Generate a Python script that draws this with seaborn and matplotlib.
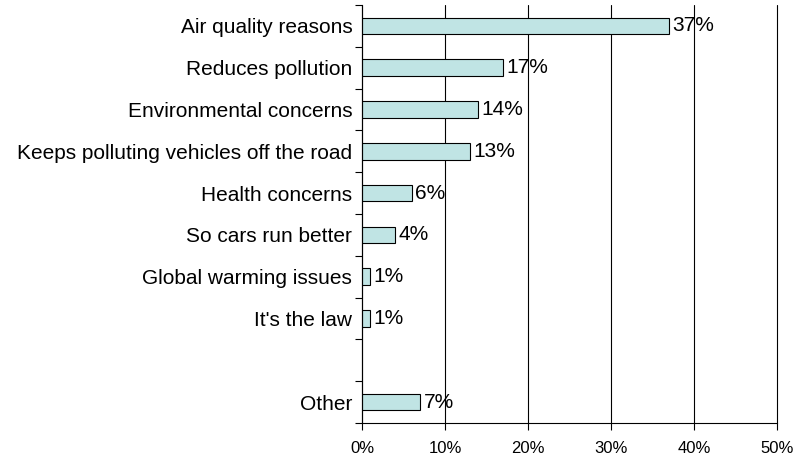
import numpy as np
import pandas as pd
import seaborn as sns
import matplotlib.pyplot as plt
from matplotlib.ticker import FixedLocator

# values (percent)
reasons = ["Air quality reasons", "Reduces pollution", "Environmental concerns",
           "Keeps polluting vehicles off the road", "Health concerns",
           "So cars run better", "Global warming issues", "It's the law", "Other"]
shares = [37, 17, 14, 13, 6, 4, 1, 1, 7]
order = reasons[:8] + [" "] + ["Other"]
xticks = [0, 10, 20, 30, 40, 50]
xtick_labels = ["0%", "10%", "20%", "30%", "40%", "50%"]

sns.set_style("white")
plt.rcParams['font.family'] = ['Liberation Sans', 'DejaVu Sans']
plt.rcParams['text.color'] = 'black'
plt.rcParams['xtick.color'] = 'black'
plt.rcParams['ytick.color'] = 'black'

df = pd.DataFrame({"reason": reasons, "share": shares})

fig = plt.figure(figsize=(7.94, 4.57), dpi=100)
ax = fig.add_axes([0.456, 0.0744, 0.5226, 0.9146])

sns.barplot(data=df, x="share", y="reason", order=order, orient="h",
            color="#c0e4e4", edgecolor="black", linewidth=0.8,
            width=0.4, saturation=1, ax=ax)

# value labels
for r, v in zip(reasons, shares):
    ax.text(v + 0.4, order.index(r), f"{v}%", va="center", ha="left",
            fontsize=15, color="black")

ax.set_xlim(0, 50)
ax.set_ylim(len(order) - 0.5, -0.5)
ax.set_xticks(xticks)
ax.set_xticklabels(xtick_labels, fontsize=12)
ax.set_xlabel("")
ax.set_ylabel("")
ax.tick_params(axis="y", length=0, labelsize=15, pad=7, labelcolor="black")
ax.yaxis.set_minor_locator(FixedLocator(np.arange(-0.5, len(order), 1)))
ax.tick_params(axis="y", which="minor", length=5, width=0.8, direction="out", color="black", left=True)
ax.tick_params(axis="x", length=5, width=0.8, direction="out", color="black",
               bottom=True, pad=8, labelcolor="black")
ax.xaxis.grid(True, color="black", linewidth=0.8)
for gl in ax.get_xgridlines():
    gl.set_clip_on(False)
ax.set_axisbelow(True)
for s in ["top", "right"]:
    ax.spines[s].set_visible(False)
for s in ["left", "bottom"]:
    ax.spines[s].set_color("black")
    ax.spines[s].set_linewidth(0.8)

fig.savefig("out.png", dpi=100)
